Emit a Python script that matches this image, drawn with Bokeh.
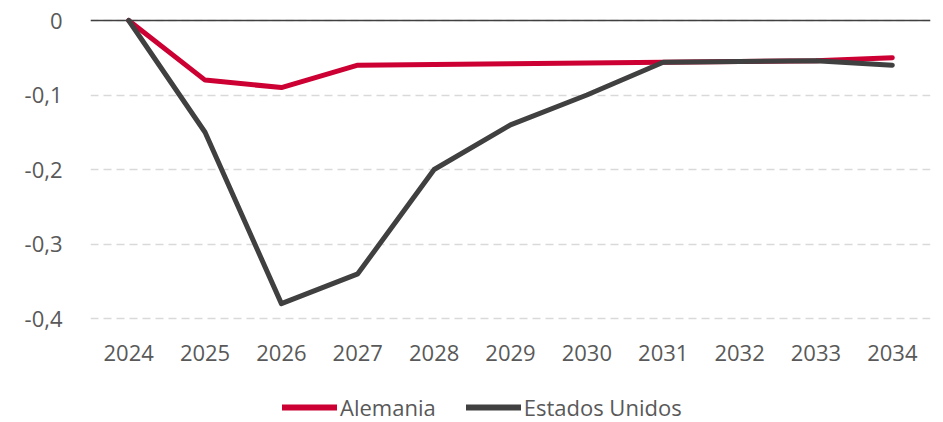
from bokeh.plotting import figure
from bokeh.layouts import column
from bokeh.models import Range1d, FixedTicker, Span, Legend, LegendItem
from bokeh.embed import file_html
from bokeh.resources import INLINE

years = ["2024", "2025", "2026", "2027", "2028", "2029", "2030", "2031", "2032", "2033", "2034"]
alemania = [0, -0.08, -0.09, -0.06, -0.059, -0.058, -0.057, -0.056, -0.055, -0.054, -0.05]
estados_unidos = [0, -0.15, -0.38, -0.34, -0.20, -0.14, -0.10, -0.056, -0.055, -0.054, -0.06]
y_ticks = [0, -0.1, -0.2, -0.3, -0.4]
y_tick_labels = ["0", "-0,1", "-0,2", "-0,3", "-0,4"]
series_names = ["Alemania", "Estados Unidos"]
series_colors = ["#cc0033", "#404040"]

FONT = "Open Sans"
TXT = "#595959"

p = figure(x_range=years, y_range=Range1d(-0.4107, 0.0094), width=935, height=372,
           output_backend="svg", toolbar_location=None,
           min_border_left=90, min_border_right=5, min_border_top=13, min_border_bottom=46)
p.x_range.range_padding = 0
p.outline_line_color = None
p.background_fill_color = "white"

p.xgrid.grid_line_color = None
p.ygrid.grid_line_color = "#d9d9d9"
p.ygrid.grid_line_width = 1.5
p.ygrid.grid_line_dash = "8 5"

p.yaxis.ticker = FixedTicker(ticks=y_ticks)
p.yaxis.major_label_overrides = {t: l for t, l in zip(y_ticks, y_tick_labels)}
for ax in (p.xaxis[0], p.yaxis[0]):
    ax.axis_line_color = None
    ax.major_tick_line_color = None
    ax.minor_tick_line_color = None
    ax.major_label_text_font = FONT
    ax.major_label_text_font_size = "22px"
    ax.major_label_text_color = TXT
p.yaxis.major_label_standoff = 22
p.xaxis.major_label_standoff = 12

p.add_layout(Span(location=0, dimension="width", line_color="#404040", line_width=1.5))

for vals, col in zip([alemania, estados_unidos], series_colors):
    p.line(years, vals, line_color=col, line_width=5, line_cap="round", line_join="round")

# legend strip (proxy lines lie outside the visible range)
pl = figure(width=935, height=50, output_backend="svg", toolbar_location=None,
            x_range=Range1d(0, 1), y_range=Range1d(0, 1),
            min_border_left=0, min_border_right=0, min_border_top=0, min_border_bottom=0)
pl.axis.visible = False
pl.grid.grid_line_color = None
pl.outline_line_color = None
items = []
for name, col in zip(series_names, series_colors):
    r = pl.line([-2, -1], [-2, -2], line_color=col, line_width=6, line_cap="round")
    items.append(LegendItem(label=name, renderers=[r]))
legend = Legend(items=items, orientation="horizontal", location=(192, 0),
                label_text_font=FONT, label_text_font_size="22px", label_text_color=TXT,
                glyph_width=55, glyph_height=20, label_height=20, label_standoff=3, spacing=30,
                border_line_color=None, background_fill_alpha=0, padding=0, margin=0)
pl.add_layout(legend, "center")

open("out.html", "w").write(file_html(column(p, pl, spacing=0), INLINE))
